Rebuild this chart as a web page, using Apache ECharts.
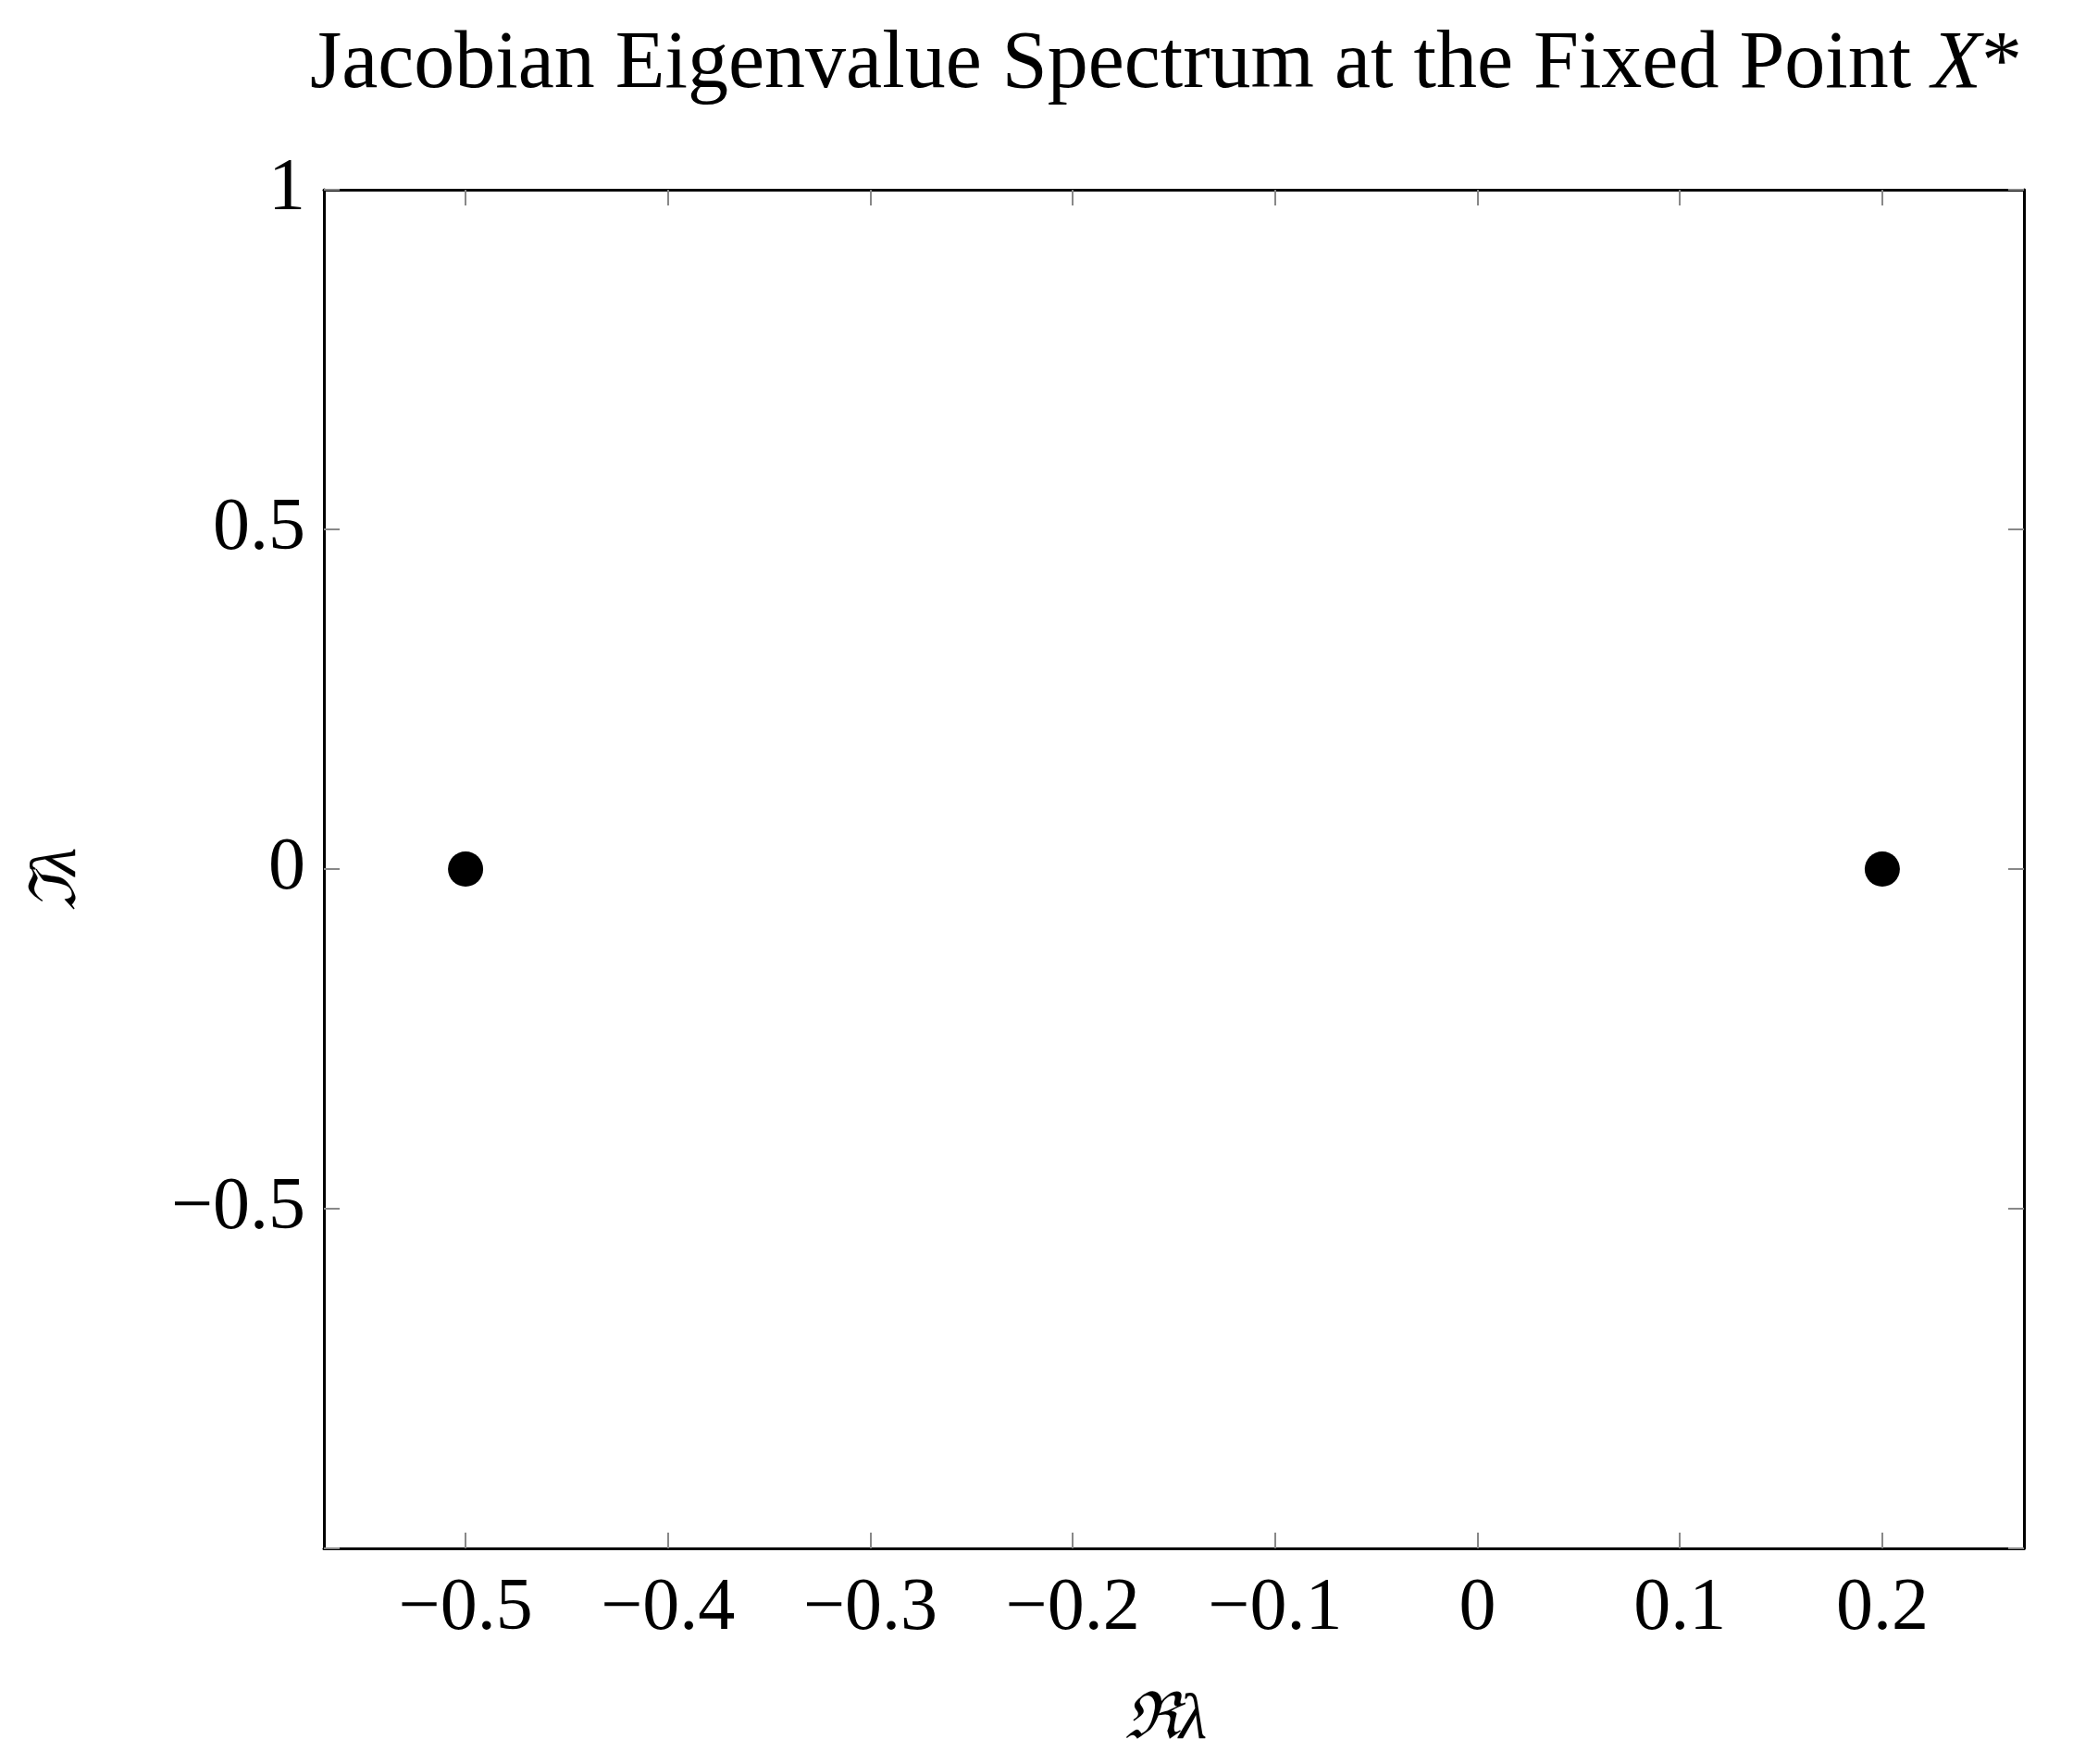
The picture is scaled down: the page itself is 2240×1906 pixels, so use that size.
<!DOCTYPE html>
<html>
  <head>
    <meta charset="utf-8" />
    <title>Jacobian Eigenvalue Spectrum</title>
    <script src="https://cdn.jsdelivr.net/npm/echarts@6/dist/echarts.min.js"></script>
  </head>
  <body style="margin:0">
    <div id="main" style="width:2240px;height:1906px;"></div>
    <script type="text/javascript">
      // eigenvalues (real, imaginary)
      const reParts = [-0.5, 0.2];
      const imParts = [0, 0];
      const xTicks = [-0.5, -0.4, -0.3, -0.2, -0.1, 0, 0.1, 0.2];

      const font = "'Liberation Serif', 'DejaVu Serif', serif";
      const fmt = v => {
        const r = Math.round(v * 10) / 10;
        return r < 0 ? "\u2212" + String(-r) : String(r);
      };
      const tick = { show: true, inside: true, length: 17, lineStyle: { color: "#888", width: 2 } };
      const frame = { show: true, onZero: false, lineStyle: { color: "#000", width: 3 } };

      const myChart = echarts.init(document.getElementById("main"));
      const option = {
        backgroundColor: "#fff",
        animation: false,
        title: {
          text: "Jacobian Eigenvalue Spectrum at the Fixed Point {i|X}*",
          left: 1255, top: 22, textAlign: "center",
          textStyle: {
            fontFamily: font, fontSize: 88, fontWeight: "normal", color: "#000",
            rich: { i: { fontFamily: font, fontSize: 88, fontStyle: "italic", color: "#000" } },
          },
        },
        grid: { left: 350, right: 53, top: 205, bottom: 233 },
        graphic: [
          { type: "text", left: 1215, top: 1825, style: { text: "\u211Cλ", font: "italic 70px " + font, fill: "#000" } },
          { type: "text", x: 28, y: 985, rotation: Math.PI / 2, style: { text: "\u2111λ", font: "italic 70px " + font, fill: "#000" } },
        ],
        xAxis: [
          {
            type: "value", min: -0.57, max: 0.27, interval: 0.1,
            axisLine: frame,
            axisTick: Object.assign({ customValues: xTicks }, tick),
            axisLabel: {
              customValues: xTicks, formatter: fmt, margin: 26,
              fontFamily: font, fontSize: 80, color: "#000",
            },
            splitLine: { show: false },
          },
          {
            type: "value", position: "top", min: -0.57, max: 0.27,
            axisLine: frame,
            axisTick: Object.assign({ customValues: xTicks }, tick),
            axisLabel: { show: false }, splitLine: { show: false },
          },
        ],
        yAxis: [
          {
            type: "value", min: -1, max: 1, interval: 0.5,
            axisLine: frame,
            axisTick: tick,
            axisLabel: {
              formatter: v => (v <= -1 ? "" : fmt(v)), margin: 20,
              fontFamily: font, fontSize: 80, color: "#000",
            },
            splitLine: { show: false },
          },
          {
            type: "value", position: "right", min: -1, max: 1, interval: 0.5,
            axisLine: frame,
            axisTick: tick, axisLabel: { show: false }, splitLine: { show: false },
          },
        ],
        series: [
          {
            type: "scatter", symbol: "circle", symbolSize: 38,
            itemStyle: { color: "#000", opacity: 1 },
            data: reParts.map((r, i) => [r, imParts[i]]),
          },
        ],
      };
      myChart.setOption(option);
    </script>
  </body>
</html>
